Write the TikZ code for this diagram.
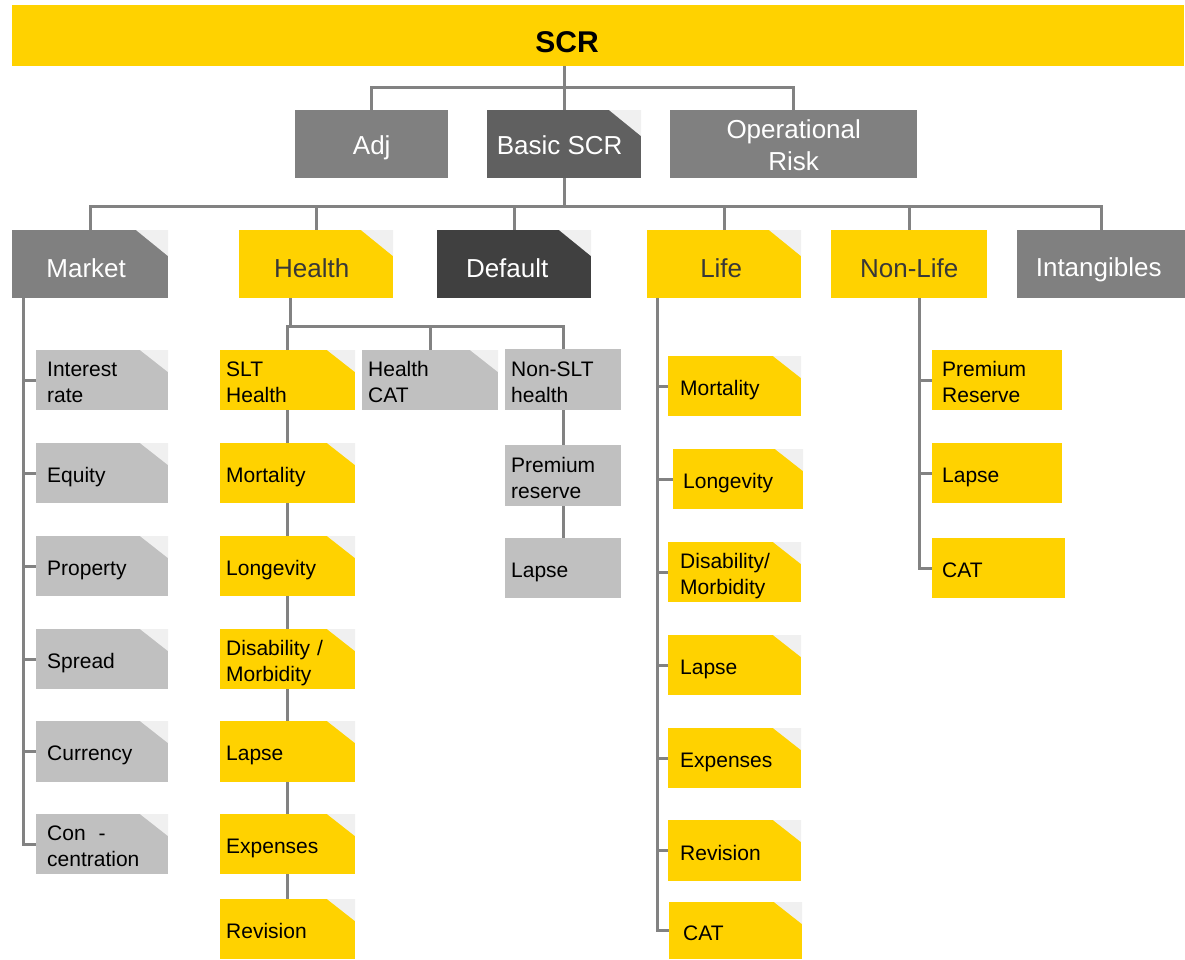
\documentclass[tikz,border=0pt]{standalone}
\usepackage{fontspec}
\setmainfont{Liberation Sans}
\usetikzlibrary{backgrounds}
\definecolor{ey}{HTML}{FFD200}
\definecolor{g1}{HTML}{808080}
\definecolor{g2}{HTML}{606060}
\definecolor{g3}{HTML}{404040}
\definecolor{g4}{HTML}{C0C0C0}
\definecolor{foldc}{HTML}{F0F0F0}
\definecolor{linec}{HTML}{828282}
\definecolor{dtext}{HTML}{383838}
\tikzset{
  bx/.style={draw=none, inner sep=0pt, anchor=north west},
  big/.style={bx, font=\fontsize{26}{32}\selectfont, align=center},
  lvone/.style={execute at begin node={\rule{0pt}{26pt}}, execute at end node={\rule[-6pt]{0pt}{6pt}}},
  lvtwo/.style={execute at begin node={\rule{0pt}{29pt}}, execute at end node={\rule[-3pt]{0pt}{3pt}}},
  sm/.style={bx, font=\fontsize{21}{26}\selectfont, align=left, text=black,
    execute at begin node={\rule{0pt}{22.5pt}}, execute at end node={\rule[-3.5pt]{0pt}{3.5pt}}},
  bigfold/.style={path picture={\fill[foldc] ([xshift=-32pt]path picture bounding box.north east) -- (path picture bounding box.north east) -- ([yshift=-26pt]path picture bounding box.north east) -- cycle;}},
  smfold/.style={path picture={\fill[foldc] ([xshift=-28pt]path picture bounding box.north east) -- (path picture bounding box.north east) -- ([yshift=-22pt]path picture bounding box.north east) -- cycle;}},
  yel/.style={fill=ey, text=dtext},
  gry/.style={fill=g1, text=white},
  conn/.style={draw=linec, line width=3pt},
}
\newcommand{\mkbig}[7]{%
  \node[big,#6,minimum width={#4-#2},minimum height={#5-#3}] (#1) at (#2,#3) {#7};}
\newcommand{\mksm}[8]{%
  \pgfmathsetmacro{\mytw}{#4-#2-2*#7}%
  \node[sm,#6,minimum width={#4-#2},minimum height={#5-#3},inner xsep=#7pt,text width=\mytw pt] (#1) at (#2,#3) {#8};}
\begin{document}
\begin{tikzpicture}[x=1pt,y=-1pt]
\useasboundingbox (0,0) rectangle (1185,960);
% top
\node[bx, fill=ey, minimum width=1172pt, minimum height=61pt] (scr) at (12,5) {};
\node[font=\fontsize{30}{34}\selectfont\bfseries, text=black, inner sep=0pt] (scrtext) at (567,42) {SCR};
% level 1
\mkbig{adj}{295}{110}{448}{178}{gry,lvone}{Adj}
\mkbig{basic}{487}{110}{641}{178}{fill=g2,text=white,bigfold,lvone}{Basic SCR\hspace*{9pt}}
\mkbig{oprisk}{670}{110}{917}{178}{gry,lvone}{\rule{0pt}{26pt}Operational\\Risk}
% level 2
\mkbig{market}{12}{230}{168}{298}{gry,bigfold,lvtwo}{Market\hspace*{8pt}}
\mkbig{health}{239}{230}{393}{298}{yel,bigfold,lvtwo}{Health\hspace*{9pt}}
\mkbig{default}{437}{230}{591}{298}{fill=g3,text=white,bigfold,lvtwo}{Default\hspace*{14pt}}
\mkbig{life}{647}{230}{801}{298}{yel,bigfold,lvtwo}{Life\hspace*{6pt}}
\mkbig{nonlife}{831}{230}{987}{298}{yel,lvtwo}{Non-Life}
\mkbig{intang}{1017}{230}{1185}{298}{gry,lvtwo}{Intangibles\hspace*{5pt}}
% market children
\mksm{ir}{36}{350}{168}{410}{fill=g4,smfold}{11}{Interest\\rate}
\mksm{eq}{36}{443}{168}{503}{fill=g4,smfold}{11}{Equity}
\mksm{prop}{36}{536}{168}{596}{fill=g4,smfold}{11}{Property}
\mksm{spread}{36}{629}{168}{689}{fill=g4,smfold}{11}{Spread}
\mksm{curr}{36}{721}{168}{782}{fill=g4,smfold}{11}{Currency}
\mksm{conc}{36}{814}{168}{874}{fill=g4,smfold}{11}{Con\hspace{13pt}-\\centration}
% health children
\mksm{slt}{220}{350}{355}{410}{fill=ey,smfold}{6}{SLT\\Health}
\mksm{hmort}{220}{443}{355}{503}{fill=ey,smfold}{6}{Mortality}
\mksm{hlong}{220}{536}{355}{596}{fill=ey,smfold}{6}{Longevity}
\mksm{hdis}{220}{629}{355}{689}{fill=ey,smfold}{6}{Disability /\\Morbidity}
\mksm{hlapse}{220}{721}{355}{782}{fill=ey,smfold}{6}{Lapse}
\mksm{hexp}{220}{814}{355}{874}{fill=ey,smfold}{6}{Expenses}
\mksm{hrev}{220}{899}{355}{959}{fill=ey,smfold}{6}{Revision}
\mksm{hcat}{362}{350}{498}{410}{fill=g4,smfold}{6}{Health\\CAT}
\mksm{nonslt}{505}{349}{621}{410}{fill=g4}{6}{Non-SLT\\health}
\mksm{prem}{505}{445}{621}{506}{fill=g4}{6}{Premium\\reserve}
\mksm{nlapse}{505}{538}{621}{598}{fill=g4}{6}{Lapse}
% life children
\mksm{lmort}{668}{356}{801}{416}{fill=ey,smfold}{12}{Mortality}
\mksm{llong}{673}{449}{803}{509}{fill=ey,smfold}{10}{Longevity}
\mksm{ldis}{668}{542}{801}{602}{fill=ey,smfold}{12}{Disability/\\Morbidity}
\mksm{llapse}{668}{635}{801}{695}{fill=ey,smfold}{12}{Lapse}
\mksm{lexp}{668}{728}{801}{788}{fill=ey,smfold}{12}{Expenses}
\mksm{lrev}{668}{820}{801}{881}{fill=ey,smfold}{12}{Revision}
\mksm{lcat}{669}{902}{802}{959}{fill=ey,smfold}{14}{CAT}
% non-life children
\mksm{nprem}{932}{350}{1062}{410}{fill=ey}{10}{Premium\\Reserve}
\mksm{nlapse2}{932}{443}{1062}{503}{fill=ey}{10}{Lapse}
\mksm{ncat}{932}{538}{1065}{598}{fill=ey}{10}{CAT}
% connectors
\coordinate (bus1) at (0,88);
\coordinate (bus2) at (0,206);
\coordinate (mtrunk) at (23,298);
\coordinate (hdrop) at (290,298);
\coordinate (hbus) at (290,326);
\coordinate (ltrunk) at (657,298);
\coordinate (ntrunk) at (919,298);
\begin{scope}[on background layer]
\draw[conn] (scr.south -| basic.north) -- (basic.north);
\draw[conn] (adj.north) |- (oprisk.north |- bus1) -- (oprisk.north);
\draw[conn] (basic.south) -- (basic.south |- bus2);
\draw[conn] (market.north) |- (intang.north |- bus2) -- (intang.north);
\foreach \n in {health,default,life,nonlife} \draw[conn] (\n.north) -- (\n.north |- bus2);
% market
\draw[conn] (mtrunk) |- (conc.west);
\foreach \n in {ir,eq,prop,spread,curr} \draw[conn] (mtrunk |- \n.west) -- (\n.west);
% health
\draw[conn] (hdrop) -- (hbus);
\draw[conn] (slt.north) |- (nonslt.north |- hbus) -- (nonslt.north);
\draw[conn] (hcat.north) -- (hcat.north |- hbus);
\draw[conn] (slt.south) -- (hmort.north);
\draw[conn] (hmort.south) -- (hlong.north);
\draw[conn] (hlong.south) -- (hdis.north);
\draw[conn] (hdis.south) -- (hlapse.north);
\draw[conn] (hlapse.south) -- (hexp.north);
\draw[conn] (hexp.south) -- (hrev.north);
\draw[conn] (nonslt.south) -- (prem.north);
\draw[conn] (prem.south) -- (nlapse.north);
% life
\draw[conn] (ltrunk) |- ([xshift=5pt]lcat.west);
\foreach \n in {lmort,llong,ldis,llapse,lexp,lrev} \draw[conn] (ltrunk |- \n.west) -- (\n.west);
% non-life
\draw[conn] (ntrunk) |- (ncat.west);
\foreach \n in {nprem,nlapse2} \draw[conn] (ntrunk |- \n.west) -- (\n.west);
\end{scope}
\end{tikzpicture}
\end{document}
